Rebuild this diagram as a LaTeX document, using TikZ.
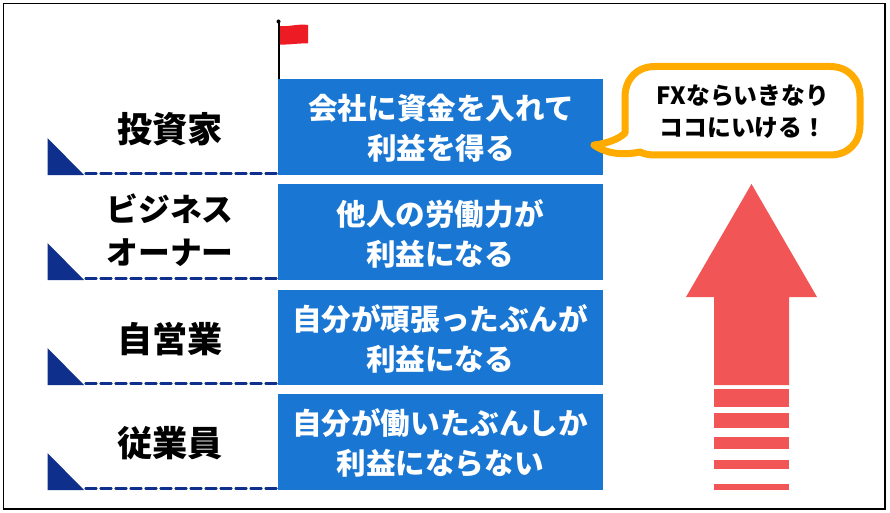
\documentclass[tikz,border=0pt]{standalone}
\usepackage{fontspec}
\newfontfamily\cjk{Noto Sans CJK JP}
\definecolor{boxblue}{HTML}{1976D2}
\definecolor{navy}{HTML}{0F2F8C}
\definecolor{flagred}{HTML}{ED1C24}
\definecolor{arrowred}{HTML}{F25555}
\definecolor{amber}{HTML}{FFAB00}
\tikzset{
 x=1pt,y=-1pt,
 panel/.style={fill=boxblue,text=white,minimum width=325.5pt,anchor=north west,inner sep=0pt,align=center},
 paneltext/.style={text=white,inner sep=0pt,align=center,font=\cjk\bfseries\fontsize{29.6}{40}\selectfont},
 rolelabel/.style={text=black,align=center,inner sep=0pt,font=\cjk\bfseries\fontsize{35.2}{46}\selectfont},
 rolelabelsmall/.style={text=black,align=center,inner sep=0pt,font=\cjk\bfseries\fontsize{31.8}{43}\selectfont},
 wedge/.style={fill=navy},
 dashline/.style={draw=navy,line width=2.4pt,dash pattern=on 11pt off 4pt,line cap=round},
 stripe/.style={fill=arrowred}
}
\begin{document}
\begin{tikzpicture}
\useasboundingbox (0,0) rectangle (890,513);
\draw[line width=1.2pt,fill=white] (3.5,3.5) rectangle (885,509);
% panels
\node[panel,minimum height=96pt] (p1) at (277.5,79) {};
\node[panel,minimum height=96pt] (p2) at (277.5,184) {};
\node[panel,minimum height=95pt] (p3) at (277.5,290) {};
\node[panel,minimum height=96pt] (p4) at (277.5,394) {};
\node[paneltext] (t1) at (441,128.5) {会社に資金を入れて\\利益を得る};
\node[paneltext] (t2) at (440,234) {他人の労働力が\\利益になる};
\node[paneltext] (t3) at (440,338.5) {自分が頑張ったぶんが\\利益になる};
\node[paneltext] (t4) at (440,443) {自分が働いたぶんしか\\利益にならない};
% labels
\node[rolelabel] (l1) at (170,129) {投資家};
\node[rolelabelsmall] (l2) at (170,230) {ビジネス\\オーナー};
\node[rolelabel] (l3) at (170,339) {自営業};
\node[rolelabel] (l4) at (170,443) {従業員};
% wedges and dashed lines
\foreach \n/\y in {1/175,2/280,3/385,4/490}{
 \fill[wedge] (47.5,\y-37) -- (47.5,\y) -- (84,\y) -- cycle;
 \coordinate (d\n) at (85.5,\y-1.5);
 \draw[dashline] (d\n) -- (d\n -| p\n.west);
}
% flag
\coordinate (poletop) at (278.5,21.5);
\draw[line width=2pt] (poletop) -- (poletop |- p1.north);
\fill (poletop) circle (2pt);
\fill[flagred] (280,26) .. controls (289,27) and (298,23.5) .. (308,25) -- (308,43.5) .. controls (298,43) and (289,45) .. (280,44.5) -- cycle;
% bubble
\draw[amber,line width=7pt,fill=white,line join=round]
 (655,66.5) -- (830,66.5) .. controls (848,66.5) and (860,79) .. (860,97) -- (860,125)
 .. controls (860,143) and (848,155) .. (830,155) -- (655,155)
 .. controls (649,155) and (644,154) .. (640,152)
 .. controls (626,155) and (608,155) .. (594,145)
 .. controls (604,144) and (618,140) .. (625,133)
 -- (625,97) .. controls (625,79) and (637,66.5) .. (655,66.5) -- cycle;
\node[inner sep=0pt,align=center,font=\cjk\bfseries\fontsize{23.8}{32}\selectfont] (b) at (743,111.5) {FXならいきなり\\ココにいける！};
% arrow
\fill[arrowred] (751.5,184) -- (817,297) -- (789,297) -- (789,385) -- (714,385) -- (714,297) -- (686,297) -- cycle;
\foreach \a/\b in {389/407,413/428,437/449,460/469,484/490}
 \fill[stripe] (714,\a) rectangle (789,\b);
\end{tikzpicture}
\end{document}
